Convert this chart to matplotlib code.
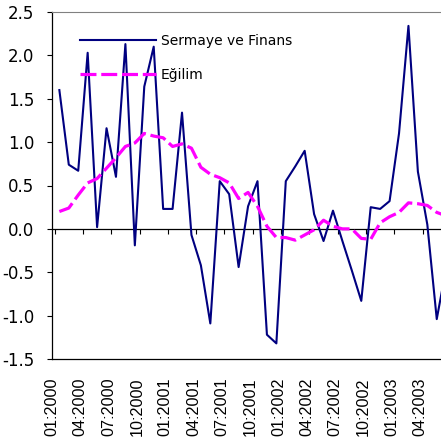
import numpy as np
import matplotlib
matplotlib.use("Agg")
import matplotlib.pyplot as plt

plt.rcParams['axes.unicode_minus'] = False

# aylik veriler, 01:2000 - 06:2003
sermaye = [1.60, 0.74, 0.67, 2.03, 0.02, 1.16, 0.60, 2.13, -0.19, 1.64,
           2.10, 0.23, 0.23, 1.34, -0.07, -0.42, -1.09, 0.55, 0.40, -0.44,
           0.26, 0.55, -1.22, -1.32, 0.55, 0.72, 0.90, 0.17, -0.14, 0.21,
           -0.14, -0.48, -0.83, 0.25, 0.23, 0.32, 1.10, 2.34, 0.66, 0.05,
           -1.04, -0.45]
egilim = [0.20, 0.24, 0.39, 0.53, 0.58, 0.70, 0.82, 0.95, 0.99, 1.10,
          1.07, 1.05, 0.95, 0.98, 0.93, 0.71, 0.63, 0.59, 0.53, 0.35,
          0.42, 0.26, 0.03, -0.10, -0.10, -0.13, -0.07, -0.01, 0.10, 0.03,
          0.00, 0.00, -0.11, -0.12, 0.07, 0.14, 0.19, 0.30, 0.29, 0.27,
          0.19, 0.15]
etiketler = ["01:2000", "04:2000", "07:2000", "10:2000", "01:2001", "04:2001",
             "07:2001", "10:2001", "01:2002", "04:2002", "07:2002", "10:2002",
             "01:2003", "04:2003"]

x = np.arange(len(sermaye))

fig = plt.figure(figsize=(4.41, 4.43), dpi=100)
ax = fig.add_axes([52/441, 84/443, 389/441, 347/443])

ax.plot(x, sermaye, color="#000080", lw=1.5, label="Sermaye ve Finans", zorder=3)
ax.plot(x, egilim, color="#FF00FF", lw=2.3, dashes=(5, 1.5), label="Eğilim", zorder=4)

ax.set_xlim(-0.5, 40.45)
ax.set_ylim(-1.5, 2.5)

# y ekseni
ax.set_yticks(np.arange(-1.5, 2.51, 0.5))
ax.set_yticklabels(["%.1f" % v for v in np.arange(-1.5, 2.51, 0.5)],
                   fontsize=12, family="DejaVu Sans")
ax.tick_params(axis="y", direction="out", length=3.6, width=0.8, pad=9)

# x etiketleri (altta)
ax.set_xticks(np.arange(len(etiketler)) * 3 - 0.78)
ax.set_xticklabels(etiketler, rotation=90, fontsize=11.6, family="Liberation Sans",
                   va="top", ha="center")
ax.tick_params(axis="x", length=0, pad=13.5)

ax.spines["right"].set_visible(False)
ax.spines["top"].set_color("#808080")
for s in ["left", "bottom"]:
    ax.spines[s].set_color("black")
    ax.spines[s].set_linewidth(0.9)

# sifir cizgisi ve tik isaretleri
sec = ax.secondary_xaxis(1.5 / 4.0)
sec.set_xticks(np.arange(0, 14) * 3 - 0.5)
sec.set_xticklabels([])
sec.tick_params(direction="out", length=3.6, width=0.8)
sec.spines["bottom"].set_color("black")
sec.spines["bottom"].set_linewidth(0.9)

leg = ax.legend(loc="upper left", bbox_to_anchor=(0.072, 0.938), frameon=False,
                handlelength=5.5, handletextpad=0.3,
                labelspacing=1.45, borderpad=0, borderaxespad=0,
                prop={"family": "DejaVu Sans", "size": 10})

fig.savefig("out.png", dpi=100)
